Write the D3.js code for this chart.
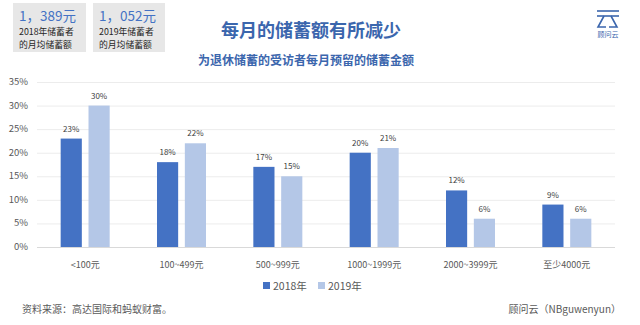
<!DOCTYPE html>
<html><head><meta charset="utf-8">
<script src="https://cdn.jsdelivr.net/npm/d3@7"></script>
<style>body{margin:0;background:#fff}svg{display:block;font-family:"Noto Sans CJK SC","Noto Sans",sans-serif}</style>
</head><body><svg id="c" width="640" height="325"></svg>
<script>
const categories = ["<100元","100~499元","500~999元","1000~1999元","2000~3999元","至少4000元"];
const series = ["2018年","2019年"];
const values2018 = [23,18,17,20,12,9];
const values2019 = [30,22,15,21,6,6];
const yTicks = [0,5,10,15,20,25,30,35];
const colors = ["#4472C4","#B4C7E7"];

const svg = d3.select("#c");
const m = {l:37, r:615, t:82, b:247};
const x0 = d3.scaleBand().domain(categories).range([m.l,m.r]);
const x1 = d3.scaleBand().domain(series).range([0,49]).paddingInner(0.24);
const y = d3.scaleLinear().domain([0,35]).range([m.b,m.t]);

// grid
svg.append("g").selectAll("line").data(yTicks).join("line")
  .attr("x1",m.l).attr("x2",m.r).attr("y1",d=>y(d)+0.5).attr("y2",d=>y(d)+0.5)
  .attr("stroke",d=>d===0?"#d9d9d9":"#ececec").attr("stroke-width",d=>d===0?1.2:1);
svg.append("g").selectAll("text").data(yTicks).join("text")
  .attr("x",28).attr("y",d=>y(d)+3).attr("text-anchor","end")
  .attr("font-size",9.5).attr("fill","#595959").text(d=>d+"%");

const data = categories.map((c,i)=>({c, v:[values2018[i],values2019[i]]}));
const g = svg.append("g").selectAll("g").data(data).join("g")
  .attr("transform",d=>`translate(${x0(d.c)+x0.bandwidth()/2-24.5},0)`);
g.selectAll("rect").data(d=>d.v.map((v,j)=>({v,s:series[j],j}))).join("rect")
  .attr("x",d=>x1(d.s)).attr("width",x1.bandwidth())
  .attr("y",d=>y(d.v)).attr("height",d=>y(0)-y(d.v))
  .attr("fill",d=>colors[d.j]);
g.selectAll("text").data(d=>d.v.map((v,j)=>({v,s:series[j],j}))).join("text")
  .attr("x",d=>x1(d.s)+x1.bandwidth()/2).attr("y",d=>y(d.v)-7)
  .attr("text-anchor","middle").attr("font-size",8).attr("fill","#404040")
  .text(d=>d.v+"%");

svg.append("g").selectAll("text").data(categories).join("text")
  .attr("x",d=>x0(d)+x0.bandwidth()/2).attr("y",268).attr("text-anchor","middle")
  .attr("font-size",9).attr("fill","#595959").text(d=>d);

// legend
const lg = svg.append("g");
[[263,273],[318,328]].forEach((p,i)=>{
  lg.append("rect").attr("x",p[0]).attr("y",282).attr("width",7).attr("height",7).attr("fill",colors[i]);
  lg.append("text").attr("x",p[1]).attr("y",289.5).attr("font-size",10.5).attr("fill","#595959").text(series[i]);
});

// header boxes
const boxes = [{x:13,w:73,v:"1，389元",a:"2018年储蓄者"},{x:93,w:72,v:"1，052元",a:"2019年储蓄者"}];
boxes.forEach(b=>{
  svg.append("rect").attr("x",b.x).attr("y",3).attr("width",b.w).attr("height",49).attr("fill","#e7e7e7");
  svg.append("text").attr("x",b.x+6).attr("y",21).attr("font-size",13.5).attr("fill","#4472C4").text(b.v);
  svg.append("text").attr("x",b.x+6).attr("y",34.5).attr("font-size",8.8).attr("fill","#262626").text(b.a);
  svg.append("text").attr("x",b.x+6).attr("y",47.5).attr("font-size",8.8).attr("fill","#262626").text("的月均储蓄额");
});

svg.append("text").attr("x",311).attr("y",36.5).attr("text-anchor","middle")
  .attr("font-size",18).attr("font-weight","bold").attr("fill","#3B66AD").text("每月的储蓄额有所减少");
svg.append("text").attr("x",198).attr("y",64.5).attr("font-size",12).attr("font-weight","bold")
  .attr("fill","#3B66AD").text("为退休储蓄的受访者每月预留的储蓄金额");

// logo
const lo = svg.append("g").attr("stroke","#3B66AD").attr("stroke-width",1.6).attr("fill","none");
lo.append("line").attr("x1",597).attr("x2",619).attr("y1",11).attr("y2",11);
lo.append("line").attr("x1",597).attr("x2",619).attr("y1",16).attr("y2",16);
lo.append("polyline").attr("points","604,16 598,27 606,27");
lo.append("polyline").attr("points","611,16 617,27 609,27");
svg.append("text").attr("x",608).attr("y",37).attr("text-anchor","middle").attr("font-size",7)
  .attr("fill","#3B66AD").text("顾问云");

svg.append("text").attr("x",22).attr("y",313).attr("font-size",10).attr("fill","#595959").text("资料来源：高达国际和蚂蚁财富。");
svg.append("text").attr("x",621).attr("y",313).attr("text-anchor","end").attr("font-size",10).attr("fill","#595959").text("顾问云（NBguwenyun）");
</script></body></html>
